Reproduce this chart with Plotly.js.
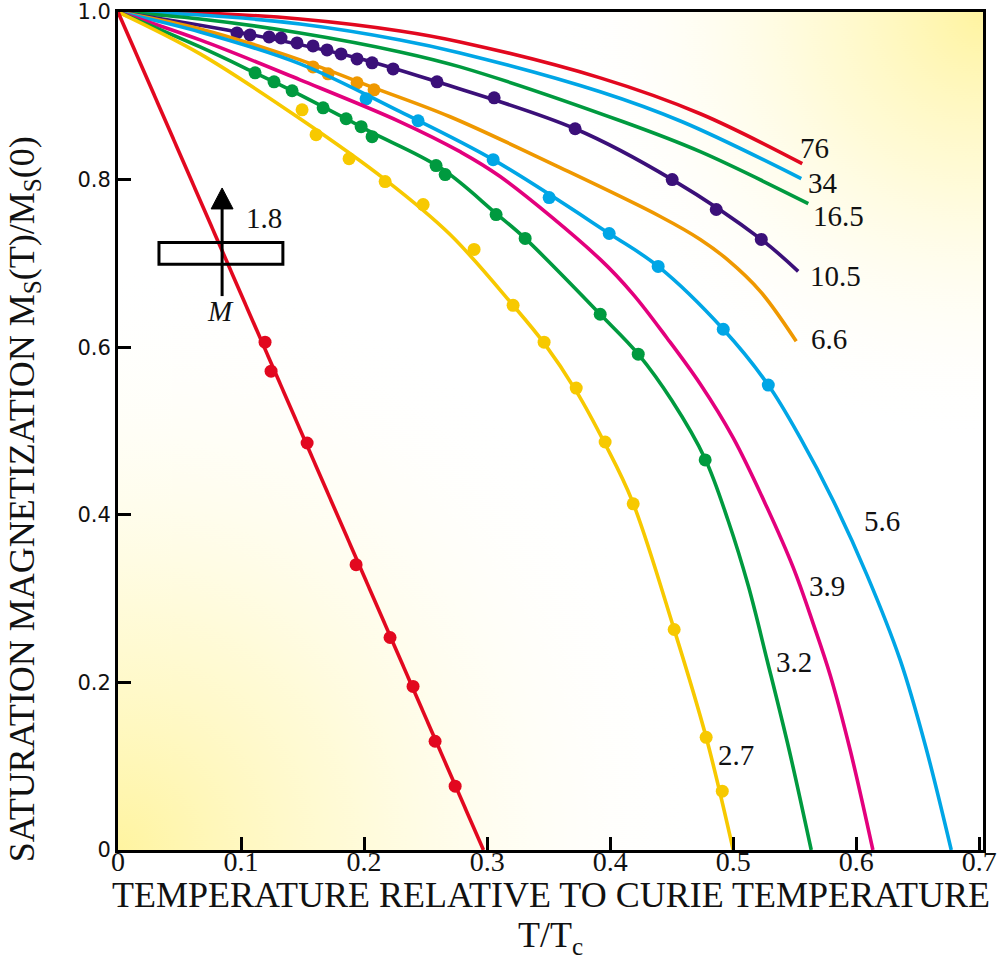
<!DOCTYPE html>
<html>
<head>
<meta charset="utf-8">
<script src="https://cdn.plot.ly/plotly-3.0.1.min.js"></script>
<style>html,body{margin:0;padding:0;background:#fff;}#chart{width:998px;height:977px;}</style>
</head>
<body>
<div id="chart"></div>
<script>
// ---- curve data (T/Tc, Ms(T)/Ms(0)) ----
const t76 = [0,0.0667,0.148,0.2293,0.278,0.3919,0.4732,0.5561];
const m76 = [1,0.9988,0.9917,0.9774,0.9643,0.9214,0.8786,0.819];

const t34 = [0,0.0667,0.148,0.2293,0.278,0.3919,0.4585,0.5553];
const m34 = [1,0.9964,0.9857,0.9667,0.9512,0.9048,0.869,0.8012];

const t165 = [0,0.0667,0.148,0.2293,0.278,0.4106,0.4732,0.561];
const m165 = [1,0.9917,0.975,0.9524,0.9345,0.869,0.8333,0.7714];

const t105 = [0,0.0967,0.1943,0.2593,0.3715,0.4504,0.5228,0.5528];
const m105 = [1,0.9762,0.9452,0.9167,0.8607,0.8,0.7286,0.6905];
const t105d = [0.0967,0.1073,0.1228,0.1325,0.1455,0.1585,0.1699,0.1813,0.1943,0.2065,0.2236,0.2593,0.3057,0.3715,0.4504,0.4862,0.5228];
const m105d = [0.975,0.9726,0.9702,0.969,0.9631,0.9595,0.9548,0.95,0.944,0.9393,0.9321,0.9167,0.8976,0.8607,0.8,0.7643,0.7286];

const t66 = [0,0.0667,0.148,0.2081,0.2699,0.3593,0.4407,0.4732,0.4951,0.522,0.5512];
const m66 = [1,0.9798,0.9429,0.9095,0.875,0.8143,0.756,0.7286,0.7048,0.6667,0.6071];
const t66d = [0.1585,0.1707,0.1943,0.2081];
const m66d = [0.9345,0.9262,0.9155,0.9071];

const t56 = [0,0.0667,0.148,0.2293,0.3049,0.3992,0.439,0.4919,0.5285,0.5545,0.5813,0.6089,0.6358,0.6561,0.6772];
const m56 = [1,0.9762,0.9381,0.881,0.8238,0.7357,0.6964,0.6214,0.5548,0.4917,0.4167,0.3274,0.2262,0.125,0];
const t56d = [0.2016,0.2439,0.3049,0.3504,0.3992,0.439,0.4919,0.5285];
const m56d = [0.8964,0.8702,0.8238,0.7786,0.7357,0.6964,0.6214,0.5548];

const t39 = [0,0.0667,0.148,0.2293,0.278,0.3106,0.3919,0.4187,0.4463,0.4732,0.5,0.5276,0.5488,0.565,0.5789,0.5951,0.6135];
const m39 = [1,0.9667,0.919,0.869,0.8333,0.8036,0.7048,0.6631,0.6107,0.556,0.4917,0.4083,0.3369,0.2702,0.2083,0.119,0];

const t32 = [0,0.0667,0.1114,0.1415,0.1854,0.2065,0.2618,0.3073,0.3309,0.3919,0.4228,0.4504,0.4772,0.4959,0.5122,0.5276,0.5455,0.5634];
const m32 = [1,0.9583,0.9274,0.906,0.8726,0.856,0.8143,0.7595,0.7298,0.6393,0.5917,0.5357,0.4667,0.3929,0.3155,0.2262,0.119,0];
const t32d = [0.1114,0.1268,0.1415,0.1667,0.1854,0.1976,0.2065,0.2585,0.2659,0.3073,0.3309,0.3919,0.4228,0.4772];
const m32d = [0.9274,0.9167,0.906,0.8857,0.8726,0.8631,0.8512,0.8167,0.806,0.7583,0.7298,0.6393,0.5917,0.4655];

const t27 = [0,0.0667,0.148,0.2171,0.2699,0.3211,0.3463,0.3724,0.3959,0.4179,0.452,0.478,0.5];
const m27 = [1,0.95,0.8726,0.8,0.7345,0.65,0.6048,0.5476,0.4845,0.4167,0.2631,0.1345,0];
const t27d = [0.1496,0.161,0.1878,0.2171,0.248,0.2894,0.3211,0.3463,0.3724,0.3959,0.4187,0.452,0.478,0.4911];
const m27d = [0.8833,0.8536,0.825,0.7976,0.7702,0.7167,0.65,0.606,0.5512,0.4869,0.4131,0.2631,0.1345,0.0702];

const t18 = [0,0.297];
const m18 = [1,0];
const t18d = [0.1195,0.1244,0.1537,0.1935,0.2211,0.2398,0.2577,0.274];
const m18d = [0.606,0.5714,0.4857,0.3405,0.2536,0.1952,0.1298,0.0762];

// curve labels
const curveLabels = ['76','34','16.5','10.5','6.6','5.6','3.9','3.2','2.7','1.8'];
const labelT = [0.5659,0.5732,0.5854,0.5829,0.578,0.6211,0.5764,0.5496,0.5024,0.1187];
const labelM = [0.8381,0.7964,0.756,0.6845,0.6095,0.3929,0.3155,0.2238,0.1131,0.7536];

const xTickVals = [0,0.1,0.2,0.3,0.4,0.5,0.6,0.7];
const xTickText = ['0','0.1','0.2','0.3','0.4','0.5','0.6','0.7'];
const yTickVals = [0,0.2,0.4,0.6,0.8,1];
const yTickText = ['0','0.2','0.4','0.6','0.8','1.0'];

// colours
const RED='#e2081f', BLUE='#00a6e6', GREEN='#009a3f', PURPLE='#3b1079', ORANGE='#ef9800', MAGENTA='#e3007d', YELLOW='#f7c900';

function line(t,m,c){return {x:t,y:m,mode:'lines',type:'scatter',line:{color:c,width:3.6,shape:'spline',smoothing:1},hoverinfo:'skip',showlegend:false};}
function dots(t,m,c){return {x:t,y:m,mode:'markers',type:'scatter',marker:{color:c,size:13,line:{width:0}},hoverinfo:'skip',showlegend:false};}

const traces = [
  line(t76,m76,RED), line(t34,m34,BLUE), line(t165,m165,GREEN),
  line(t105,m105,PURPLE), dots(t105d,m105d,PURPLE),
  line(t66,m66,ORANGE), dots(t66d,m66d,ORANGE),
  line(t56,m56,BLUE), dots(t56d,m56d,BLUE),
  line(t39,m39,MAGENTA),
  line(t32,m32,GREEN), dots(t32d,m32d,GREEN),
  line(t27,m27,YELLOW), dots(t27d,m27d,YELLOW),
  {x:t18,y:m18,mode:'lines',type:'scatter',line:{color:RED,width:3.6},hoverinfo:'skip',showlegend:false},
  dots(t18d,m18d,RED)
];

// background gradient (yellow corners)
const cv=document.createElement('canvas'); cv.width=866; cv.height=838;
const ctx=cv.getContext('2d');
ctx.fillStyle='#ffffff'; ctx.fillRect(0,0,866,838);
let g=ctx.createRadialGradient(0,838,0,0,838,590);
g.addColorStop(0,'rgba(255,244,160,1)'); g.addColorStop(0.4,'rgba(255,248,190,0.6)'); g.addColorStop(1,'rgba(255,255,255,0)');
ctx.fillStyle=g; ctx.fillRect(0,0,866,838);
g=ctx.createRadialGradient(866,0,0,866,0,430);
g.addColorStop(0,'rgba(255,244,160,1)'); g.addColorStop(0.4,'rgba(255,248,190,0.6)'); g.addColorStop(1,'rgba(255,255,255,0)');
ctx.fillStyle=g; ctx.fillRect(0,0,866,838);
const bg=cv.toDataURL('image/png');

const serif='Liberation Serif, Times New Roman, serif';
const annotations = curveLabels.map((s,i)=>({x:labelT[i],y:labelM[i],xref:'x',yref:'y',xanchor:'center',yanchor:'middle',text:s,showarrow:false,font:{family:serif,size:29,color:'#111'}}));
annotations.push({x:0.0829,y:0.6429,xref:'x',yref:'y',xanchor:'center',yanchor:'middle',text:'<i>M</i>',showarrow:false,font:{family:serif,size:29,color:'#111'}});
annotations.push({x:0.5,y:-0.054,xref:'paper',yref:'paper',xanchor:'center',yanchor:'middle',text:'TEMPERATURE RELATIVE TO CURIE TEMPERATURE',showarrow:false,font:{family:serif,size:36,color:'#111'}});
annotations.push({x:0.5,y:-0.1045,xref:'paper',yref:'paper',xanchor:'center',yanchor:'middle',text:'T/T<sub>c</sub>',showarrow:false,font:{family:serif,size:36,color:'#111'}});
annotations.push({x:-0.108,y:0.418,xref:'paper',yref:'paper',xanchor:'center',yanchor:'middle',textangle:-90,text:'SATURATION MAGNETIZATION M<sub>S</sub>(T)/M<sub>S</sub>(0)',showarrow:false,font:{family:serif,size:36,color:'#111'}});

const shapes = [
  {type:'rect',xref:'x',yref:'y',x0:0.0333,x1:0.134,y0:0.699,y1:0.725,line:{color:'#000',width:3},fillcolor:'rgba(0,0,0,0)'},
  {type:'line',xref:'x',yref:'y',x0:0.0846,x1:0.0846,y0:0.661,y1:0.768,line:{color:'#000',width:3}},
  {type:'path',xref:'x',yref:'y',path:'M 0.0757 0.765 L 0.0935 0.765 L 0.0846 0.790 Z',fillcolor:'#000',line:{color:'#000',width:1}}
];

const layout = {
  width:998, height:977,
  margin:{l:118,r:15,t:12,b:127},
  paper_bgcolor:'#ffffff', plot_bgcolor:'rgba(0,0,0,0)',
  showlegend:false,
  xaxis:{range:[0,0.703],showgrid:false,zeroline:false,showline:true,linecolor:'#000',linewidth:3,mirror:true,
    ticks:'inside',ticklen:13,tickwidth:3,tickcolor:'#000',tickvals:xTickVals,ticktext:xTickText,
    ticklabeloverflow:'allow',ticklabelstandoff:-16,
    tickfont:{family:serif,size:28,color:'#111'},fixedrange:true},
  yaxis:{range:[0,1],showgrid:false,zeroline:false,showline:true,linecolor:'#000',linewidth:3,mirror:true,
    ticks:'inside',ticklen:13,tickwidth:3,tickcolor:'#000',tickvals:yTickVals,ticktext:yTickText,
    ticklabeloverflow:'allow',
    tickfont:{family:'DejaVu Sans, sans-serif',size:21,color:'#111'},fixedrange:true},
  images:[{source:bg,xref:'paper',yref:'paper',x:0,y:1,sizex:1,sizey:1,sizing:'stretch',xanchor:'left',yanchor:'top',layer:'below'}],
  annotations:annotations,
  shapes:shapes
};

Plotly.newPlot('chart',traces,layout,{staticPlot:true,displayModeBar:false});
</script>
</body>
</html>
